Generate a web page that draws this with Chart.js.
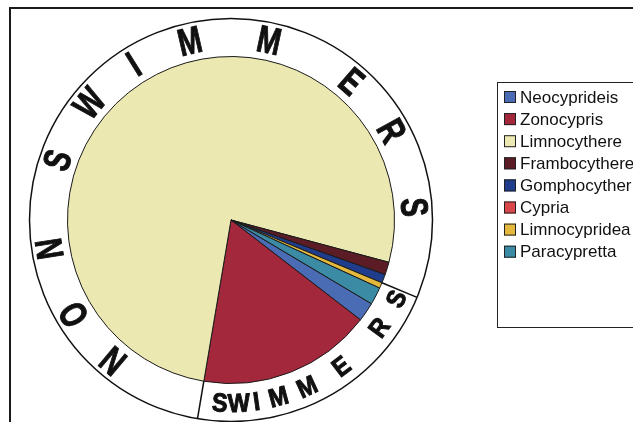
<!DOCTYPE html>
<html>
<head>
<meta charset="utf-8">
<script src="https://cdn.jsdelivr.net/npm/chart.js@4"></script>
<style>
    body { margin: 0; background: #fff; }
    #wrap { width: 633px; height: 422px; }
</style>
</head>
<body>
<div id="wrap"><canvas id="pie" width="633" height="422"></canvas></div>
<script>
// Ostracod taxa (percent of individuals)
const taxa = ['Neocyprideis', 'Zonocypris', 'Limnocythere', 'Frambocythere',
              'Gomphocyther', 'Cypria', 'Limnocypridea', 'Paracypretta'];
const share = [1.9, 17.2, 76.5, 1.25, 0.86, 0, 0.56, 1.72];
const colours = ['#4a6cb5', '#a4283b', '#ece8b2', '#5b1c25',
                 '#1f3d8c', '#d9474b', '#e3b83c', '#3b8ba5'];

// words around the ring
const upperWord = 'NON SWIMMERS';
const lowerWord = 'SWIMMERS';

const DEG = Math.PI / 180;

// letter placement on the ring (degrees, clockwise from 3 o'clock)
const upperAngles = [130, 149, 171, null, 199, 219.5, 238, 257, 282, 311, 331, 356];
const lowerAngles = [93.5, 87.5, 82, 75, 65.5, 53, 36, 25.5];

function drawLetter(ctx, ch, cx, cy, r, angle, flip, size, squeeze) {
    const a = angle * DEG;
    ctx.save();
    ctx.translate(cx + r * Math.cos(a), cy + r * Math.sin(a));
    ctx.rotate(flip ? a - Math.PI / 2 : a + Math.PI / 2);
    ctx.scale(squeeze, 1);
    ctx.font = 'bold ' + size + 'px "Liberation Sans", Arial, sans-serif';
    ctx.textAlign = 'center';
    ctx.textBaseline = 'alphabetic';
    ctx.fillStyle = '#111';
    ctx.strokeStyle = '#111';
    ctx.lineWidth = 1;
    ctx.fillText(ch, 0, size * 0.36);
    ctx.strokeText(ch, 0, size * 0.36);
    ctx.restore();
}

const ringPlugin = {
    id: 'ring',
    beforeDraw(chart) {
        const ctx = chart.ctx;
        ctx.save();
        ctx.fillStyle = '#fff';
        ctx.fillRect(0, 0, chart.width, chart.height);
        // outer frame
        ctx.strokeStyle = '#1a1a1a';
        ctx.lineWidth = 2;
        ctx.beginPath();
        ctx.moveTo(633, 8);
        ctx.lineTo(10, 8);
        ctx.lineTo(10, 422);
        ctx.stroke();
        ctx.restore();
    },
    afterDatasetsDraw(chart) {
        const ctx = chart.ctx;
        const arcs = chart.getDatasetMeta(0).data;
        const cx = arcs[0].x, cy = arcs[0].y;
        const r0 = arcs[0].outerRadius;
        const r1 = r0 + 38;

        ctx.save();
        ctx.strokeStyle = '#111';
        ctx.lineWidth = 1.5;
        ctx.beginPath();
        ctx.arc(cx, cy, r1, 0, Math.PI * 2);
        ctx.stroke();

        // radial dividers between the two groups
        const cuts = [arcs[1].endAngle, arcs[4].endAngle];
        cuts.forEach(a => {
            ctx.beginPath();
            ctx.moveTo(cx + r0 * Math.cos(a), cy + r0 * Math.sin(a));
            ctx.lineTo(cx + r1 * Math.cos(a), cy + r1 * Math.sin(a));
            ctx.stroke();
        });

        [...upperWord].forEach((ch, i) => {
            if (upperAngles[i] === null) return;
            drawLetter(ctx, ch, cx, cy, r0 + 21, upperAngles[i], false, 38, 0.74);
        });
        [...lowerWord].forEach((ch, i) => {
            drawLetter(ctx, ch, cx, cy, r0 + 19, lowerAngles[i], true, 26, 0.9);
        });
        ctx.restore();
    },
    afterDraw(chart) {
        // legend box, partly cut off on the right
        const ctx = chart.ctx;
        ctx.save();
        ctx.strokeStyle = '#222';
        ctx.lineWidth = 1;
        ctx.strokeRect(497.5, 82.5, 200, 245);
        ctx.font = '17px "Liberation Sans", Arial, sans-serif';
        ctx.textBaseline = 'middle';
        ctx.textAlign = 'left';
        taxa.forEach((name, i) => {
            const y = 97 + i * 22.1;
            ctx.fillStyle = colours[i];
            ctx.fillRect(504, y - 6, 12, 12);
            ctx.strokeStyle = '#222';
            ctx.strokeRect(504.5, y - 5.5, 11, 11);
            ctx.fillStyle = '#111';
            ctx.fillText(name, 520, y + 1);
        });
        ctx.restore();
    }
};

new Chart(document.getElementById('pie'), {
    type: 'pie',
    data: {
        labels: taxa,
        datasets: [{
            data: share,
            backgroundColor: colours,
            borderColor: '#1a1a1a',
            borderWidth: 1
        }]
    },
    options: {
        responsive: false,
        animation: false,
        rotation: 120.8,
        layout: {
            padding: { left: 67, right: 238, top: 56, bottom: 38 }
        },
        plugins: {
            legend: { display: false },
            tooltip: { enabled: false }
        }
    },
    plugins: [ringPlugin]
});
</script>
</body>
</html>
